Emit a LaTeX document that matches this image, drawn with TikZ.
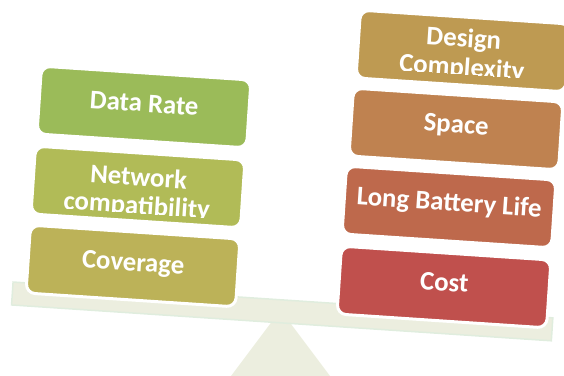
\documentclass[tikz,border=0pt]{standalone}
\usepackage{fontspec}
\setmainfont{Carlito}
\definecolor{cDataRate}{RGB}{155,187,89}
\definecolor{cNetwork}{RGB}{177,187,87}
\definecolor{cCoverage}{RGB}{188,178,88}
\definecolor{cDesign}{RGB}{190,154,82}
\definecolor{cSpace}{RGB}{191,130,80}
\definecolor{cBattery}{RGB}{190,105,76}
\definecolor{cCost}{RGB}{192,80,77}
\definecolor{beamfill}{RGB}{236,238,223}
\definecolor{beamedge}{RGB}{224,237,222}
\tikzset{
  balbox/.style={draw=white, line width=3pt, rounded corners=9pt,
    minimum width=210pt, minimum height=68pt, inner sep=0pt},
  baltext/.style={text=white, font=\fontsize{26.8}{28}\selectfont\bfseries,
    anchor=base, inner sep=0pt},
  beambar/.style={fill=beamfill, draw=beamedge, line width=1.5pt,
    minimum width=541pt, minimum height=23pt, inner sep=0pt},
  fulcrum/.style={fill=beamfill, draw=none}
}
\begin{document}
\begin{tikzpicture}[x=1pt,y=-1pt]
\useasboundingbox (0,0) rectangle (564,375);
% fulcrum and beam
\fill[fulcrum] (280.5,310) -- (231,376) -- (330,376) -- cycle;
\node[beambar, rotate=-3.8] (beam) at (282.2,311.4) {};

% left column
\begin{scope}[shift={(144,107)}, rotate=-3.8, transform shape]
  \node[balbox, fill=cDataRate] (datarate) at (0,0) {};
  \node[baltext] (datarateT) at (0,5) {Data Rate};
\end{scope}
\begin{scope}[shift={(138,187)}, rotate=-3.8, transform shape]
  \node[balbox, fill=cNetwork] (network) at (0,0) {};
  \begin{scope}
    \clip (-103,-32) rectangle (103,26);
    \node[baltext] (networkT1) at (0,-1) {Network};
    \node[baltext] (networkT2) at (0,27) {compatibility};
  \end{scope}
\end{scope}
\begin{scope}[shift={(133,266)}, rotate=-3.8, transform shape]
  \node[balbox, fill=cCoverage] (coverage) at (0,0) {};
  \node[baltext] (coverageT) at (0,5) {Coverage};
\end{scope}

% right column
\begin{scope}[shift={(463,51)}, rotate=-3.8, transform shape]
  \node[balbox, fill=cDesign] (design) at (0,0) {};
  \begin{scope}
    \clip (-103,-32) rectangle (103,23);
    \node[baltext] (designT1) at (0,-4) {Design};
    \node[baltext] (designT2) at (0,25) {Complexity};
  \end{scope}
\end{scope}
\begin{scope}[shift={(456,129)}, rotate=-3.8, transform shape]
  \node[balbox, fill=cSpace] (space) at (0,0) {};
  \node[baltext] (spaceT) at (0,4) {Space};
\end{scope}
\begin{scope}[shift={(449,207)}, rotate=-3.8, transform shape]
  \node[balbox, fill=cBattery] (battery) at (0,0) {};
  \node[baltext] (batteryT) at (0,4) {Long Battery Life};
\end{scope}
\begin{scope}[shift={(444,287)}, rotate=-3.8, transform shape]
  \node[balbox, fill=cCost] (cost) at (0,0) {};
  \node[baltext] (costT) at (0,4) {Cost};
\end{scope}
\end{tikzpicture}
\end{document}
